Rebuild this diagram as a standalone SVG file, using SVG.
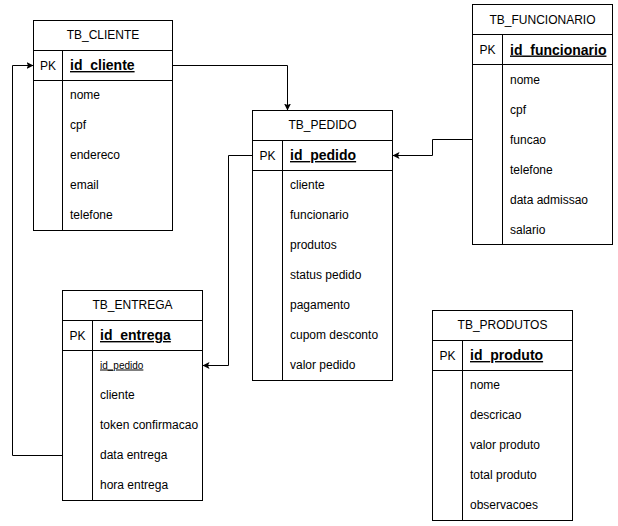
<svg xmlns="http://www.w3.org/2000/svg" width="618" height="526" viewBox="0 0 618 526">
  <defs>
    <marker id="arrow" markerWidth="8" markerHeight="8" refX="7" refY="4" orient="auto" markerUnits="userSpaceOnUse">
      <path d="M0,0.5 L7,4 L0,7.5 L1.5,4 Z" fill="#000"/>
    </marker>
    <style>
      .box { fill: #fff; stroke: #000; stroke-width: 1; }
      .ln { stroke: #000; stroke-width: 1; fill: none; }
      .conn { stroke: #000; stroke-width: 1; fill: none; marker-end: url(#arrow); }
      text { font-family: "Liberation Sans", Arial, Helvetica, sans-serif; font-size: 12px; fill: #000; }
      .title { text-anchor: middle; }
      .pk { text-anchor: middle; }
      .key { font-weight: bold; font-size: 14px; text-decoration: underline; }
      .fk { font-size: 10px; text-decoration: underline; }
    </style>
  </defs>

  <!-- relationship connectors -->
  <g id="connectors">
    <path class="conn" d="M172.5,65.5 H287.5 V110.5"/>
    <path class="conn" d="M472.5,139.5 H432.5 V155.5 H392.5"/>
    <path class="conn" d="M252.5,155.5 H228.5 V365.5 H202.5"/>
    <path class="conn" d="M62.5,455.5 H12.5 V65.5 H33.5"/>
  </g>

  <!-- TB_CLIENTE -->
  <g id="tb_cliente">
    <rect class="box" x="33.5" y="20.5" width="139" height="210"/>
    <path class="ln" d="M33.5,50.5 H172.5 M33.5,80.5 H172.5 M62.5,50.5 V230.5"/>
    <text class="title" x="103" y="39">TB_CLIENTE</text>
    <text class="pk" x="48" y="69.5">PK</text>
    <text class="key" x="70" y="70">id_cliente</text>
    <text x="70" y="99">nome</text>
    <text x="70" y="129">cpf</text>
    <text x="70" y="159">endereco</text>
    <text x="70" y="189">email</text>
    <text x="70" y="219">telefone</text>
  </g>

  <!-- TB_PEDIDO -->
  <g id="tb_pedido">
    <rect class="box" x="252.5" y="110.5" width="140" height="270"/>
    <path class="ln" d="M252.5,140.5 H392.5 M252.5,170.5 H392.5 M282.5,140.5 V380.5"/>
    <text class="title" x="322.5" y="129">TB_PEDIDO</text>
    <text class="pk" x="267.5" y="159.5">PK</text>
    <text class="key" x="290" y="160">id_pedido</text>
    <text x="290" y="189">cliente</text>
    <text x="290" y="219">funcionario</text>
    <text x="290" y="249">produtos</text>
    <text x="290" y="279">status pedido</text>
    <text x="290" y="309">pagamento</text>
    <text x="290" y="339">cupom desconto</text>
    <text x="290" y="369">valor pedido</text>
  </g>

  <!-- TB_FUNCIONARIO -->
  <g id="tb_funcionario">
    <rect class="box" x="472.5" y="4.5" width="140" height="240"/>
    <path class="ln" d="M472.5,34.5 H612.5 M472.5,64.5 H612.5 M502.5,34.5 V244.5"/>
    <text class="title" x="542.5" y="24">TB_FUNCIONARIO</text>
    <text class="pk" x="487.5" y="54">PK</text>
    <text class="key" x="510" y="54.5">id_funcionario</text>
    <text x="510" y="84">nome</text>
    <text x="510" y="114">cpf</text>
    <text x="510" y="144">funcao</text>
    <text x="510" y="174">telefone</text>
    <text x="510" y="204">data admissao</text>
    <text x="510" y="234">salario</text>
  </g>

  <!-- TB_ENTREGA -->
  <g id="tb_entrega">
    <rect class="box" x="62.5" y="290.5" width="140" height="210"/>
    <path class="ln" d="M62.5,320.5 H202.5 M62.5,350.5 H202.5 M92.5,320.5 V500.5"/>
    <text class="title" x="132.5" y="309">TB_ENTREGA</text>
    <text class="pk" x="77.5" y="339.5">PK</text>
    <text class="key" x="100" y="340">id_entrega</text>
    <text class="fk" x="100" y="368.5">id_pedido</text>
    <text x="100" y="399">cliente</text>
    <text x="100" y="429">token confirmacao</text>
    <text x="100" y="459">data entrega</text>
    <text x="100" y="489">hora entrega</text>
  </g>

  <!-- TB_PRODUTOS -->
  <g id="tb_produtos">
    <rect class="box" x="432.5" y="310.5" width="140" height="210"/>
    <path class="ln" d="M432.5,340.5 H572.5 M432.5,370.5 H572.5 M462.5,340.5 V520.5"/>
    <text class="title" x="502.5" y="329">TB_PRODUTOS</text>
    <text class="pk" x="447.5" y="359.5">PK</text>
    <text class="key" x="470" y="360">id_produto</text>
    <text x="470" y="389">nome</text>
    <text x="470" y="419">descricao</text>
    <text x="470" y="449">valor produto</text>
    <text x="470" y="479">total produto</text>
    <text x="470" y="509">observacoes</text>
  </g>
</svg>
